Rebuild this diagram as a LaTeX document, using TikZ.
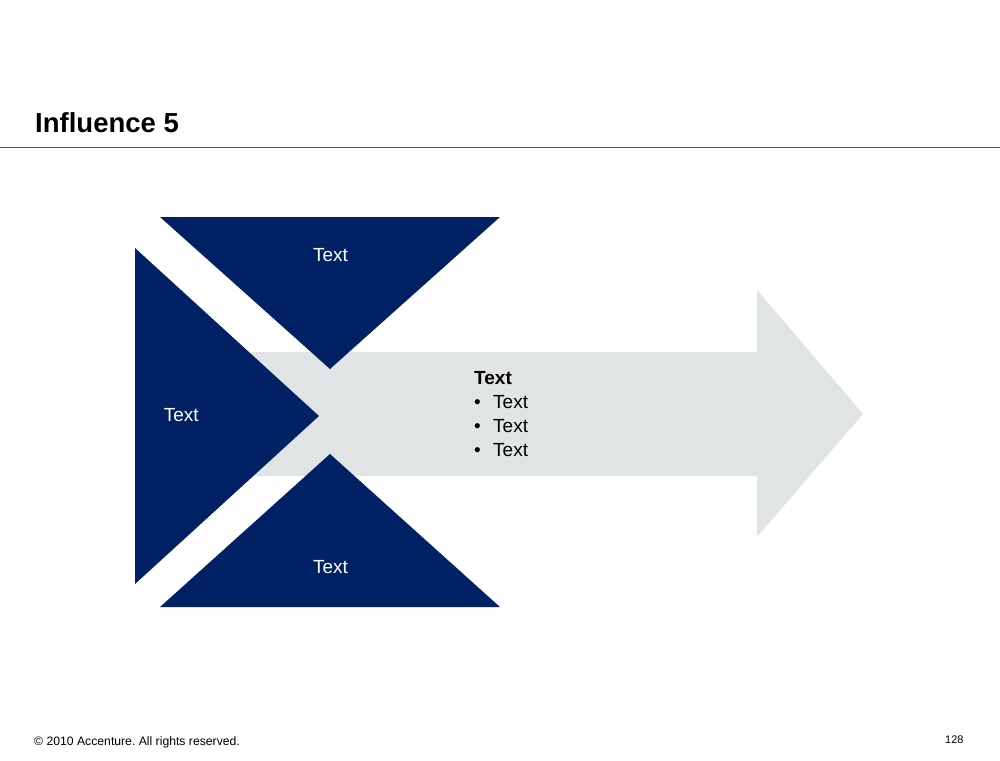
\documentclass[tikz,border=0pt]{standalone}
\usepackage{fontspec}
\setmainfont{Liberation Sans}
\frenchspacing
\definecolor{navy}{RGB}{0,33,99}
\definecolor{shaftgrey}{RGB}{224,228,229}
\definecolor{rulecol}{RGB}{72,88,140}

\begin{document}
\begin{tikzpicture}[x=1pt,y=-1pt,
    lbl/.style={text=white,inner sep=0pt,font=\fontsize{19}{23}\selectfont},
    foot/.style={inner sep=0pt,anchor=base west}]
   \useasboundingbox (0,0) rectangle (1000,760);
   \node[foot,font=\fontsize{27.5}{33}\selectfont\bfseries] (title) at (35,132) {Influence 5};
   \draw[rulecol,line width=1pt] (0,147) -- (1000,147);
   \fill[shaftgrey] (250,352) -- (757,352) -- (757,290) -- (863,414)
     -- (757,537) -- (757,476) -- (250,476) -- cycle;
   \fill[navy] (160,217) -- (500,217) -- (330,369) -- cycle;
   \fill[navy] (135,248) -- (319,416) -- (135,584) -- cycle;
   \fill[navy] (160,607) -- (500,607) -- (330,454) -- cycle;
   \node[lbl] (top) at (330.5,254.7) {Text};
   \node[lbl] (left) at (181.3,415) {Text};
   \node[lbl] (bottom) at (330.5,567.5) {Text};
   \node[anchor=north west,inner sep=0pt,align=left,font=\fontsize{19}{24}\selectfont] (body) at (474,371)
     {\textbf{Text}\\ \makebox[19pt][l]{•}Text\\ \makebox[19pt][l]{•}Text\\ \makebox[19pt][l]{•}Text};
   \node[foot,font=\fontsize{12.2}{14}\selectfont] (copy) at (34,745.7) {© 2010 Accenture. All rights reserved.};
   \node[foot,font=\fontsize{11}{13}\selectfont] (page) at (945,743.3) {128};
  \end{tikzpicture}
\end{document}
